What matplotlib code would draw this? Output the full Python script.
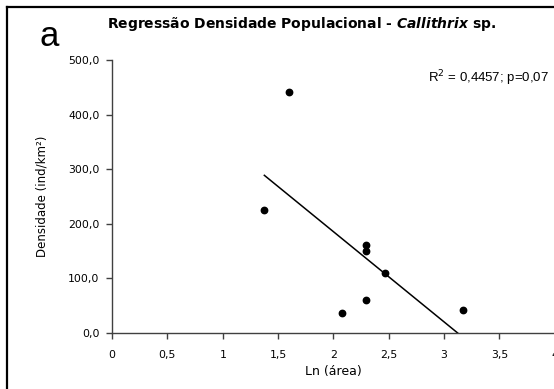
import matplotlib
matplotlib.use('Agg')

import numpy as np
import matplotlib.pyplot as plt
from matplotlib.lines import Line2D

# data
ln_area = [1.60, 1.376, 2.29, 2.29, 2.47, 2.29, 2.075, 3.17]
densidade = [441.0, 226.0, 161.0, 150.0, 109.0, 60.0, 37.0, 42.0]

x_ticks = [0, 0.5, 1, 1.5, 2, 2.5, 3, 3.5, 4]
x_labels = ['0', '0,5', '1', '1,5', '2', '2,5', '3', '3,5', '4']
y_ticks = [0, 100, 200, 300, 400, 500]
y_labels = ['0,0', '100,0', '200,0', '300,0', '400,0', '500,0']

axis_col = '#404040'

fig = plt.figure(figsize=(5.54, 3.89), dpi=100)
ax = fig.add_axes([0.2022, 0.144, 0.7993, 0.702])

ax.plot(ln_area, densidade, 'o', color='black', markersize=4.6, zorder=3)

# linear trend line over the range of x
slope, icpt = np.polyfit(ln_area, densidade, 1)
xs = np.array([min(ln_area), max(ln_area)])
ax.plot(xs, slope * xs + icpt, color='black', lw=1.1, zorder=2)

ax.set_xlim(0, 4)
ax.set_ylim(0, 500)
ax.set_xticks(x_ticks)
ax.set_xticklabels(x_labels)
ax.set_yticks(y_ticks)
ax.set_yticklabels(y_labels)

for s in ['top', 'right']:
    ax.spines[s].set_visible(False)
for s in ['left', 'bottom']:
    ax.spines[s].set_color(axis_col)
    ax.spines[s].set_linewidth(1.0)
ax.tick_params(direction='out', length=4, width=1.0, color=axis_col,
               labelsize=7.8, pad=5)
ax.tick_params(axis='x', pad=8)

ax.set_xlabel('Ln (área)', fontsize=9, labelpad=4)
ax.set_ylabel('Densidade (ind/km²)', fontsize=8.5, labelpad=14)

fig.text(0.545, 0.938, 'Regressão Densidade Populacional - $\\mathbfit{Callithrix}$ sp.',
         ha='center', va='center', fontsize=10, fontweight='bold')
fig.text(0.072, 0.905, 'a', ha='left', va='center', fontsize=25,
         family='Liberation Sans')
fig.text(0.99, 0.80, 'R$^2$ = 0,4457; p=0,07', ha='right', va='center',
         fontsize=9.5, family='Liberation Sans')

# frame of the original panel (right and bottom cut off)
fig.add_artist(Line2D([0.012, 1.0], [0.983, 0.983], color='black', lw=1.6,
                      transform=fig.transFigure))
fig.add_artist(Line2D([0.012, 0.012], [0.0, 0.983], color='black', lw=1.6,
                      transform=fig.transFigure))

plt.savefig('out.png', dpi=100)
